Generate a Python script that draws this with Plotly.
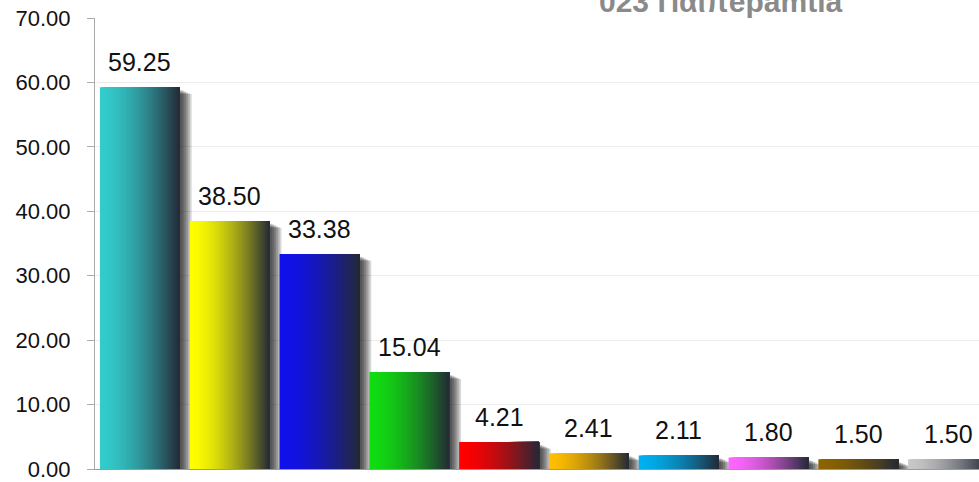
import plotly.graph_objects as go

# ---- data ----
categories = ["A", "B", "C", "D", "E", "F", "G", "H", "I", "J"]
values = [59.25, 38.50, 33.38, 15.04, 4.21, 2.41, 2.11, 1.80, 1.50, 1.50]
labels = ["59.25", "38.50", "33.38", "15.04", "4.21", "2.41", "2.11", "1.80", "1.50", "1.50"]
base_colors = [(51, 204, 204), (255, 255, 0), (17, 17, 238), (17, 221, 17), (255, 0, 0),
               (255, 190, 0), (0, 176, 240), (255, 102, 255), (140, 100, 0), (200, 200, 200)]
y_ticks = [0, 10, 20, 30, 40, 50, 60, 70]
y_tick_text = ["0.00", "10.00", "20.00", "30.00", "40.00", "50.00", "60.00", "70.00"]
title_text = "023 Παιπepamtia"

DARK = (35, 41, 54)
BAR_W = 0.89
N_SLICES = 40
PX_X = 89.8
PX_Y = 451 / 70.0

fig = go.Figure()

# shadows
for j in range(1, 7):
    dx = (1.0 + 1.8 * j) / PX_X
    dy = (2.0 + 0.8 * j) / PX_Y
    fig.add_trace(go.Bar(
        x=categories, y=[max(v - dy, 0) for v in values],
        width=BAR_W, offset=-BAR_W / 2 + dx,
        marker=dict(color="rgba(0,0,0,0.16)", line=dict(width=0)),
        hoverinfo="skip", showlegend=False))

# gradient slices (each later slice overlays the right part of the previous)
sw = BAR_W / N_SLICES
for k in range(N_SLICES):
    t = (k + 0.5) / N_SLICES
    f = t ** 1.6
    cols = []
    for c in base_colors:
        r = round(c[0] + (DARK[0] - c[0]) * f)
        g = round(c[1] + (DARK[1] - c[1]) * f)
        b = round(c[2] + (DARK[2] - c[2]) * f)
        cols.append(f"rgb({r},{g},{b})")
    fig.add_trace(go.Bar(
        x=categories, y=values,
        width=BAR_W - k * sw, offset=-BAR_W / 2 + k * sw,
        marker=dict(color=cols, line=dict(width=0)),
        hoverinfo="skip", showlegend=False))

for c, v, lab in zip(categories, values, labels):
    fig.add_annotation(x=c, y=v, text=lab, showarrow=False, yanchor="bottom",
                       yshift=9, font=dict(size=25, color="#111", family="Liberation Sans, Arial"))

fig.add_annotation(xref="paper", yref="paper", x=0.568, y=1, xanchor="left", yanchor="bottom",
                   yshift=-2, text=f"<b>{title_text}</b>", showarrow=False,
                   font=dict(size=30, color="#8a8a8a", family="Liberation Sans, Arial"))

fig.update_layout(
    width=979, height=482,
    margin=dict(l=95, r=0, t=18, b=13),
    barmode="overlay",
    plot_bgcolor="white", paper_bgcolor="white",
    font=dict(family="Liberation Sans, Arial", size=22, color="#111"),
    xaxis=dict(range=[-0.5, 9.344], showticklabels=False, showgrid=False,
               showline=True, linecolor="#9a9a9a", linewidth=1, ticks="", zeroline=False),
    yaxis=dict(range=[0, 70], tickvals=y_ticks, ticktext=y_tick_text,
               showgrid=True, gridcolor="#ececec", showline=True, linecolor="#aaaaaa",
               ticks="outside", ticklen=7, tickcolor="#aaaaaa", zeroline=False,
               tickfont=dict(size=22, color="#111"), automargin=False,
               ticklabeloverflow="allow", ticklabelstandoff=12),
)

fig.write_html("out.html", config={"displayModeBar": False, "staticPlot": True},
               post_script="document.body.style.margin='0';document.body.style.overflow='hidden';")
